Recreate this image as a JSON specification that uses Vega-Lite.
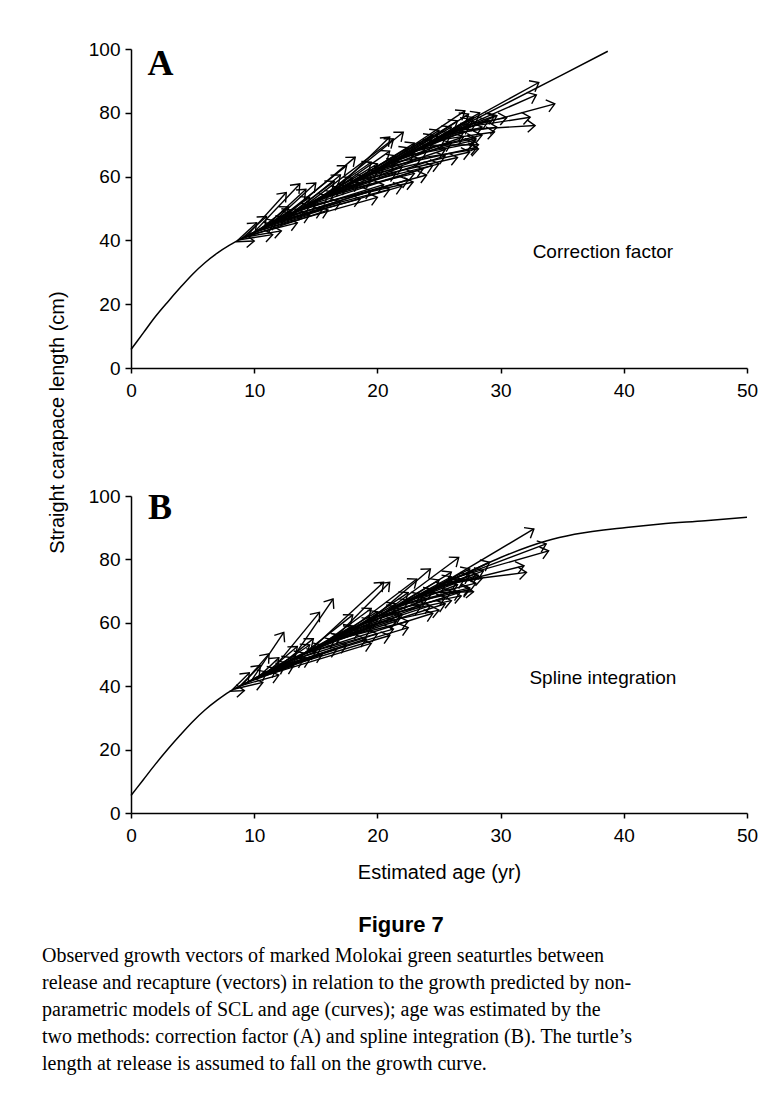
{
  "$schema": "https://vega.github.io/schema/vega-lite/v6.json",
  "description": "Observed growth vectors of marked Molokai green seaturtles against the growth curves predicted from two age-estimation methods (Figure 7).",
  "background": "white",
  "padding": {"left": 42, "top": 40, "right": 12, "bottom": 10},
  "config": {
    "view": {"stroke": null},
    "font": "Liberation Sans",
    "axis": {
      "grid": false,
      "domainColor": "black",
      "domainWidth": 1.5,
      "tickColor": "black",
      "tickWidth": 1.5,
      "labelColor": "black",
      "labelFont": "Liberation Sans",
      "labelFontSize": 19,
      "labelFlush": false,
      "titleColor": "black",
      "titleFont": "Liberation Sans",
      "titleFontSize": 20,
      "titleFontWeight": "normal"
    },
    "axisX": {"tickSize": 5, "labelPadding": 8},
    "axisY": {"tickSize": 6, "labelPadding": 5}
  },
  "title": {
    "text": [
      "Observed growth vectors of marked Molokai green seaturtles between",
      "release and recapture (vectors) in relation to the growth predicted by non-",
      "parametric models of SCL and age (curves); age was estimated by the",
      "two methods: correction factor (A) and spline integration (B). The turtle’s",
      "length at release is assumed to fall on the growth curve."
    ],
    "orient": "bottom",
    "anchor": "start",
    "offset": 10,
    "dx": -5,
    "font": "Liberation Serif",
    "fontSize": 20,
    "fontWeight": "normal",
    "lineHeight": 27,
    "color": "black"
  },
  "datasets": {
    "notesA": [
      {"age": 2.39, "scl": 95.3, "label": "A", "kind": "panel"},
      {"age": 38.3, "scl": 36.3, "label": "Correction factor", "kind": "method"}
    ],
    "notesB": [
      {"age": 2.35, "scl": 96.2, "label": "B", "kind": "panel"},
      {"age": 38.3, "scl": 42.7, "label": "Spline integration", "kind": "method"}
    ],
    "curveA": [
      {"age": 0, "scl": 5.8}, {"age": 1, "scl": 11}, {"age": 2, "scl": 16.2}, {"age": 3, "scl": 20.8},
      {"age": 4, "scl": 25.2}, {"age": 5, "scl": 29.4}, {"age": 6, "scl": 33}, {"age": 7, "scl": 36},
      {"age": 8, "scl": 38.5}, {"age": 9, "scl": 40.6}, {"age": 10, "scl": 42.6}, {"age": 12, "scl": 46.5},
      {"age": 15, "scl": 52.5}, {"age": 20, "scl": 62.3}, {"age": 25, "scl": 72.2}, {"age": 30, "scl": 82},
      {"age": 35, "scl": 91.9}, {"age": 38.7, "scl": 99.3}
    ],
    "vectorsA": [
      {"age": 8.6, "scl": 39.8, "age2": 10.2, "scl2": 45.5},
      {"age": 9.0, "scl": 40.6, "age2": 11.0, "scl2": 47.5},
      {"age": 9.4, "scl": 41.4, "age2": 12.6, "scl2": 55.0},
      {"age": 10.0, "scl": 42.6, "age2": 13.7, "scl2": 57.7},
      {"age": 10.5, "scl": 43.6, "age2": 12.8, "scl2": 50.5},
      {"age": 11.0, "scl": 44.6, "age2": 14.2, "scl2": 56.0},
      {"age": 11.5, "scl": 45.6, "age2": 15.0, "scl2": 58.0},
      {"age": 12.0, "scl": 46.5, "age2": 17.5, "scl2": 63.4},
      {"age": 12.5, "scl": 47.5, "age2": 18.2, "scl2": 66.1},
      {"age": 13.0, "scl": 48.5, "age2": 16.5, "scl2": 58.5},
      {"age": 13.5, "scl": 49.5, "age2": 17.0, "scl2": 60.5},
      {"age": 14.0, "scl": 50.5, "age2": 21.3, "scl2": 71.8},
      {"age": 15.0, "scl": 52.5, "age2": 19.5, "scl2": 64.5},
      {"age": 15.5, "scl": 53.4, "age2": 22.1, "scl2": 73.9},
      {"age": 16.0, "scl": 54.4, "age2": 21.0, "scl2": 68.0},
      {"age": 16.5, "scl": 55.4, "age2": 21.0, "scl2": 72.4},
      {"age": 17.0, "scl": 56.4, "age2": 22.5, "scl2": 69.0},
      {"age": 18.0, "scl": 58.4, "age2": 23.0, "scl2": 70.5},
      {"age": 19.0, "scl": 60.3, "age2": 24.5, "scl2": 73.0},
      {"age": 20.0, "scl": 62.3, "age2": 27.1, "scl2": 80.6},
      {"age": 21.0, "scl": 64.3, "age2": 26.5, "scl2": 77.5},
      {"age": 22.0, "scl": 66.2, "age2": 27.4, "scl2": 79.6},
      {"age": 22.5, "scl": 67.2, "age2": 29.7, "scl2": 79.1},
      {"age": 23.5, "scl": 69.2, "age2": 28.3, "scl2": 80.0},
      {"age": 24.0, "scl": 70.2, "age2": 33.1, "scl2": 89.5},
      {"age": 25.0, "scl": 72.2, "age2": 32.9, "scl2": 85.6},
      {"age": 26.0, "scl": 74.1, "age2": 29.5, "scl2": 79.0},
      {"age": 8.8, "scl": 40.2, "age2": 11.5, "scl2": 45.0},
      {"age": 9.6, "scl": 41.8, "age2": 13.0, "scl2": 48.5},
      {"age": 10.8, "scl": 44.2, "age2": 14.5, "scl2": 51.0},
      {"age": 11.8, "scl": 46.1, "age2": 16.0, "scl2": 54.0},
      {"age": 13.2, "scl": 48.9, "age2": 17.5, "scl2": 57.0},
      {"age": 14.5, "scl": 51.5, "age2": 19.0, "scl2": 60.0},
      {"age": 15.8, "scl": 54.0, "age2": 20.5, "scl2": 62.5},
      {"age": 17.2, "scl": 56.8, "age2": 21.5, "scl2": 65.0},
      {"age": 18.5, "scl": 59.3, "age2": 23.0, "scl2": 67.5},
      {"age": 19.5, "scl": 61.3, "age2": 24.0, "scl2": 70.0},
      {"age": 20.5, "scl": 63.3, "age2": 25.5, "scl2": 72.0},
      {"age": 21.5, "scl": 65.2, "age2": 26.0, "scl2": 73.5},
      {"age": 23.0, "scl": 68.2, "age2": 27.5, "scl2": 76.0},
      {"age": 24.5, "scl": 71.2, "age2": 28.0, "scl2": 77.0},
      {"age": 25.5, "scl": 73.2, "age2": 29.7, "scl2": 75.5},
      {"age": 8.5, "scl": 39.6, "age2": 10.0, "scl2": 39.8},
      {"age": 8.8, "scl": 40.2, "age2": 11.5, "scl2": 41.8},
      {"age": 9.2, "scl": 41.0, "age2": 12.2, "scl2": 43.0},
      {"age": 9.5, "scl": 41.6, "age2": 13.5, "scl2": 45.5},
      {"age": 10.0, "scl": 42.6, "age2": 14.5, "scl2": 48.0},
      {"age": 10.5, "scl": 43.6, "age2": 15.5, "scl2": 49.5},
      {"age": 11.0, "scl": 44.6, "age2": 17.0, "scl2": 52.0},
      {"age": 11.5, "scl": 45.6, "age2": 18.6, "scl2": 53.0},
      {"age": 12.0, "scl": 46.5, "age2": 19.5, "scl2": 55.5},
      {"age": 12.5, "scl": 47.5, "age2": 21.0, "scl2": 56.0},
      {"age": 13.0, "scl": 48.5, "age2": 20.5, "scl2": 57.5},
      {"age": 14.0, "scl": 50.5, "age2": 22.9, "scl2": 58.3},
      {"age": 15.0, "scl": 52.5, "age2": 23.7, "scl2": 62.4},
      {"age": 16.0, "scl": 54.4, "age2": 23.0, "scl2": 61.0},
      {"age": 17.0, "scl": 56.4, "age2": 25.0, "scl2": 64.0},
      {"age": 18.0, "scl": 58.4, "age2": 26.5, "scl2": 66.0},
      {"age": 19.0, "scl": 60.3, "age2": 27.5, "scl2": 67.7},
      {"age": 20.0, "scl": 62.3, "age2": 28.1, "scl2": 69.2},
      {"age": 21.0, "scl": 64.3, "age2": 28.2, "scl2": 68.7},
      {"age": 22.0, "scl": 66.2, "age2": 27.8, "scl2": 70.5},
      {"age": 23.0, "scl": 68.2, "age2": 28.0, "scl2": 72.0},
      {"age": 24.5, "scl": 71.2, "age2": 29.5, "scl2": 74.0},
      {"age": 26.0, "scl": 74.1, "age2": 34.4, "scl2": 82.8},
      {"age": 26.5, "scl": 75.1, "age2": 32.4, "scl2": 78.6},
      {"age": 26.2, "scl": 74.5, "age2": 32.8, "scl2": 76.0},
      {"age": 27.0, "scl": 76.1, "age2": 30.5, "scl2": 78.5},
      {"age": 10.0, "scl": 42.6, "age2": 20.0, "scl2": 53.5},
      {"age": 11.0, "scl": 44.6, "age2": 22.0, "scl2": 57.0},
      {"age": 13.5, "scl": 49.5, "age2": 24.0, "scl2": 60.5},
      {"age": 9.0, "scl": 40.6, "age2": 16.0, "scl2": 49.5},
      {"age": 9.2, "scl": 41.0, "age2": 11.8, "scl2": 46.0},
      {"age": 9.8, "scl": 42.2, "age2": 12.5, "scl2": 47.0},
      {"age": 10.2, "scl": 43.0, "age2": 13.0, "scl2": 49.5},
      {"age": 10.6, "scl": 43.8, "age2": 14.0, "scl2": 49.0},
      {"age": 11.2, "scl": 45.0, "age2": 15.0, "scl2": 51.5},
      {"age": 11.6, "scl": 45.8, "age2": 14.5, "scl2": 53.5},
      {"age": 12.2, "scl": 46.9, "age2": 16.5, "scl2": 55.0},
      {"age": 12.8, "scl": 48.1, "age2": 17.0, "scl2": 56.5},
      {"age": 13.4, "scl": 49.3, "age2": 18.5, "scl2": 58.0},
      {"age": 13.8, "scl": 50.1, "age2": 18.0, "scl2": 59.5},
      {"age": 14.2, "scl": 50.9, "age2": 19.5, "scl2": 59.0},
      {"age": 14.8, "scl": 52.1, "age2": 20.0, "scl2": 61.5},
      {"age": 15.2, "scl": 52.9, "age2": 21.5, "scl2": 61.0},
      {"age": 15.6, "scl": 53.7, "age2": 20.0, "scl2": 64.0},
      {"age": 16.2, "scl": 54.8, "age2": 22.0, "scl2": 63.0},
      {"age": 16.8, "scl": 56.0, "age2": 21.5, "scl2": 66.5},
      {"age": 17.5, "scl": 57.4, "age2": 23.5, "scl2": 65.5},
      {"age": 18.2, "scl": 58.8, "age2": 24.0, "scl2": 68.0},
      {"age": 18.8, "scl": 59.9, "age2": 25.5, "scl2": 68.5},
      {"age": 19.2, "scl": 60.7, "age2": 24.5, "scl2": 71.0},
      {"age": 19.8, "scl": 61.9, "age2": 26.0, "scl2": 70.5},
      {"age": 20.2, "scl": 62.7, "age2": 25.0, "scl2": 74.5},
      {"age": 20.8, "scl": 63.9, "age2": 27.0, "scl2": 72.5},
      {"age": 21.2, "scl": 64.7, "age2": 26.0, "scl2": 75.5},
      {"age": 21.8, "scl": 65.9, "age2": 28.0, "scl2": 71.5},
      {"age": 22.2, "scl": 66.7, "age2": 27.0, "scl2": 74.0},
      {"age": 22.8, "scl": 67.8, "age2": 28.5, "scl2": 73.0},
      {"age": 23.2, "scl": 68.6, "age2": 27.5, "scl2": 78.0},
      {"age": 23.8, "scl": 69.8, "age2": 28.2, "scl2": 70.0},
      {"age": 24.2, "scl": 70.6, "age2": 28.5, "scl2": 75.5},
      {"age": 24.8, "scl": 71.8, "age2": 27.8, "scl2": 78.5},
      {"age": 25.2, "scl": 72.6, "age2": 29.0, "scl2": 77.5},
      {"age": 16.0, "scl": 54.4, "age2": 25.5, "scl2": 66.5},
      {"age": 14.0, "scl": 50.5, "age2": 24.5, "scl2": 63.5},
      {"age": 12.0, "scl": 46.5, "age2": 22.5, "scl2": 59.0}
    ],
    "curveB": [
      {"age": 0, "scl": 5.5}, {"age": 1, "scl": 10.5}, {"age": 2, "scl": 15.5}, {"age": 3, "scl": 20.2},
      {"age": 4, "scl": 24.6}, {"age": 5, "scl": 28.8}, {"age": 6, "scl": 32.5}, {"age": 7, "scl": 35.6},
      {"age": 8, "scl": 38.3}, {"age": 9, "scl": 40.3}, {"age": 10, "scl": 42.3}, {"age": 12, "scl": 46.2},
      {"age": 15, "scl": 52.2}, {"age": 20, "scl": 62}, {"age": 25, "scl": 71.8}, {"age": 27.5, "scl": 76.2},
      {"age": 30, "scl": 80.6}, {"age": 33.7, "scl": 85.8}, {"age": 36, "scl": 87.9}, {"age": 40.2, "scl": 90.1},
      {"age": 43, "scl": 91.2}, {"age": 46.6, "scl": 92.2}, {"age": 50, "scl": 93.3}
    ],
    "vectorsB": [
      {"age": 8.2, "scl": 38.8, "age2": 9.6, "scl2": 44.2},
      {"age": 8.8, "scl": 39.9, "age2": 10.5, "scl2": 46.5},
      {"age": 9.0, "scl": 40.3, "age2": 11.2, "scl2": 50.2},
      {"age": 9.8, "scl": 41.9, "age2": 12.4, "scl2": 57.0},
      {"age": 10.4, "scl": 43.1, "age2": 12.0, "scl2": 49.0},
      {"age": 11.0, "scl": 44.3, "age2": 13.5, "scl2": 52.5},
      {"age": 11.5, "scl": 45.3, "age2": 15.3, "scl2": 63.3},
      {"age": 12.0, "scl": 46.2, "age2": 14.8, "scl2": 55.0},
      {"age": 13.0, "scl": 48.2, "age2": 16.4, "scl2": 67.5},
      {"age": 14.0, "scl": 50.2, "age2": 18.0, "scl2": 62.5},
      {"age": 14.5, "scl": 51.2, "age2": 20.5, "scl2": 72.8},
      {"age": 15.5, "scl": 53.1, "age2": 19.5, "scl2": 64.5},
      {"age": 16.5, "scl": 55.1, "age2": 21.0, "scl2": 72.8},
      {"age": 17.5, "scl": 57.1, "age2": 23.2, "scl2": 73.8},
      {"age": 18.5, "scl": 59.1, "age2": 22.5, "scl2": 69.5},
      {"age": 19.5, "scl": 61.0, "age2": 24.3, "scl2": 77.0},
      {"age": 20.5, "scl": 63.0, "age2": 26.6, "scl2": 80.6},
      {"age": 21.5, "scl": 65.0, "age2": 26.0, "scl2": 76.0},
      {"age": 22.5, "scl": 66.9, "age2": 29.1, "scl2": 79.1},
      {"age": 23.5, "scl": 68.9, "age2": 28.6, "scl2": 76.4},
      {"age": 25.0, "scl": 71.8, "age2": 32.7, "scl2": 89.6},
      {"age": 26.0, "scl": 73.6, "age2": 33.7, "scl2": 84.9},
      {"age": 26.5, "scl": 74.5, "age2": 33.9, "scl2": 82.7},
      {"age": 8.5, "scl": 39.3, "age2": 11.0, "scl2": 44.5},
      {"age": 9.5, "scl": 41.3, "age2": 12.5, "scl2": 47.5},
      {"age": 10.5, "scl": 43.3, "age2": 14.0, "scl2": 50.5},
      {"age": 11.5, "scl": 45.3, "age2": 15.5, "scl2": 53.0},
      {"age": 12.5, "scl": 47.2, "age2": 17.0, "scl2": 56.0},
      {"age": 13.5, "scl": 49.2, "age2": 18.0, "scl2": 58.5},
      {"age": 15.0, "scl": 52.2, "age2": 19.5, "scl2": 61.0},
      {"age": 16.0, "scl": 54.1, "age2": 20.5, "scl2": 63.0},
      {"age": 17.0, "scl": 56.1, "age2": 21.5, "scl2": 65.0},
      {"age": 18.0, "scl": 58.1, "age2": 22.5, "scl2": 67.0},
      {"age": 19.0, "scl": 60.0, "age2": 23.5, "scl2": 69.0},
      {"age": 20.0, "scl": 62.0, "age2": 24.5, "scl2": 70.5},
      {"age": 21.0, "scl": 64.0, "age2": 25.5, "scl2": 72.0},
      {"age": 22.0, "scl": 65.9, "age2": 26.5, "scl2": 73.5},
      {"age": 23.0, "scl": 67.9, "age2": 27.5, "scl2": 75.0},
      {"age": 24.0, "scl": 69.9, "age2": 28.0, "scl2": 75.5},
      {"age": 8.0, "scl": 38.4, "age2": 9.2, "scl2": 38.6},
      {"age": 8.4, "scl": 39.1, "age2": 10.7, "scl2": 41.2},
      {"age": 9.0, "scl": 40.3, "age2": 12.0, "scl2": 43.5},
      {"age": 9.5, "scl": 41.3, "age2": 13.2, "scl2": 46.5},
      {"age": 10.0, "scl": 42.3, "age2": 14.5, "scl2": 48.5},
      {"age": 10.5, "scl": 43.3, "age2": 15.5, "scl2": 50.0},
      {"age": 11.0, "scl": 44.3, "age2": 16.7, "scl2": 51.7},
      {"age": 11.5, "scl": 45.3, "age2": 17.5, "scl2": 53.0},
      {"age": 12.0, "scl": 46.2, "age2": 19.1, "scl2": 54.9},
      {"age": 13.0, "scl": 48.2, "age2": 20.0, "scl2": 56.5},
      {"age": 14.0, "scl": 50.2, "age2": 21.3, "scl2": 58.0},
      {"age": 15.0, "scl": 52.2, "age2": 21.8, "scl2": 62.2},
      {"age": 16.0, "scl": 54.1, "age2": 22.5, "scl2": 60.5},
      {"age": 17.0, "scl": 56.1, "age2": 24.3, "scl2": 65.4},
      {"age": 18.0, "scl": 58.1, "age2": 25.0, "scl2": 64.0},
      {"age": 19.0, "scl": 60.0, "age2": 26.7, "scl2": 69.6},
      {"age": 20.0, "scl": 62.0, "age2": 26.0, "scl2": 67.0},
      {"age": 21.0, "scl": 64.0, "age2": 26.8, "scl2": 68.5},
      {"age": 22.0, "scl": 65.9, "age2": 27.5, "scl2": 71.0},
      {"age": 24.5, "scl": 70.9, "age2": 31.9, "scl2": 78.0},
      {"age": 25.5, "scl": 72.7, "age2": 32.1, "scl2": 75.9},
      {"age": 25.0, "scl": 71.8, "age2": 28.5, "scl2": 74.0},
      {"age": 10.0, "scl": 42.3, "age2": 19.5, "scl2": 53.5},
      {"age": 11.0, "scl": 44.3, "age2": 21.0, "scl2": 56.0},
      {"age": 9.2, "scl": 40.7, "age2": 11.8, "scl2": 45.5},
      {"age": 9.8, "scl": 41.9, "age2": 12.5, "scl2": 46.5},
      {"age": 10.2, "scl": 42.7, "age2": 13.0, "scl2": 49.0},
      {"age": 10.6, "scl": 43.5, "age2": 14.0, "scl2": 48.5},
      {"age": 11.2, "scl": 44.7, "age2": 15.0, "scl2": 51.0},
      {"age": 11.6, "scl": 45.5, "age2": 14.5, "scl2": 53.0},
      {"age": 12.2, "scl": 46.6, "age2": 16.5, "scl2": 54.5},
      {"age": 12.8, "scl": 47.8, "age2": 17.0, "scl2": 56.0},
      {"age": 13.4, "scl": 49.0, "age2": 18.5, "scl2": 57.5},
      {"age": 13.8, "scl": 49.8, "age2": 18.0, "scl2": 59.0},
      {"age": 14.2, "scl": 50.6, "age2": 19.5, "scl2": 58.5},
      {"age": 14.8, "scl": 51.8, "age2": 20.0, "scl2": 61.0},
      {"age": 15.2, "scl": 52.6, "age2": 21.5, "scl2": 60.5},
      {"age": 15.6, "scl": 53.3, "age2": 20.0, "scl2": 63.5},
      {"age": 16.2, "scl": 54.5, "age2": 22.0, "scl2": 62.5},
      {"age": 16.8, "scl": 55.7, "age2": 21.5, "scl2": 66.0},
      {"age": 17.5, "scl": 57.1, "age2": 23.5, "scl2": 65.0},
      {"age": 18.2, "scl": 58.5, "age2": 24.0, "scl2": 67.5},
      {"age": 18.8, "scl": 59.6, "age2": 25.5, "scl2": 68.0},
      {"age": 19.2, "scl": 60.4, "age2": 24.5, "scl2": 70.5},
      {"age": 19.8, "scl": 61.6, "age2": 26.0, "scl2": 70.0},
      {"age": 20.2, "scl": 62.4, "age2": 25.0, "scl2": 73.5},
      {"age": 20.8, "scl": 63.6, "age2": 26.5, "scl2": 72.0},
      {"age": 21.2, "scl": 64.4, "age2": 26.0, "scl2": 74.5},
      {"age": 21.8, "scl": 65.5, "age2": 27.5, "scl2": 70.5},
      {"age": 22.2, "scl": 66.3, "age2": 27.0, "scl2": 73.5},
      {"age": 22.8, "scl": 67.5, "age2": 28.0, "scl2": 72.5},
      {"age": 23.2, "scl": 68.3, "age2": 27.5, "scl2": 77.0},
      {"age": 23.8, "scl": 69.5, "age2": 27.8, "scl2": 69.8},
      {"age": 24.2, "scl": 70.3, "age2": 28.2, "scl2": 75.0},
      {"age": 16.0, "scl": 54.1, "age2": 25.5, "scl2": 66.0},
      {"age": 14.0, "scl": 50.2, "age2": 24.5, "scl2": 63.0},
      {"age": 12.0, "scl": 46.2, "age2": 22.5, "scl2": 58.5}
    ]
  },
  "spacing": 128,
  "bounds": "flush",
  "vconcat": [
    {
      "width": 616,
      "height": 319,
      "encoding": {
        "x": {
          "field": "age",
          "type": "quantitative",
          "scale": {"domain": [0, 50], "nice": false},
          "axis": {"values": [0, 10, 20, 30, 40, 50], "title": null}
        },
        "y": {
          "field": "scl",
          "type": "quantitative",
          "scale": {"domain": [0, 100], "nice": false},
          "axis": {
            "values": [0, 20, 40, 60, 80, 100],
            "title": "Straight carapace length (cm)",
            "titleX": -74,
            "titleY": 373,
            "titleBaseline": "middle"
          }
        }
      },
      "layer": [
        {
          "data": {"name": "curveA"},
          "mark": {"type": "line", "color": "black", "strokeWidth": 1.5, "interpolate": "monotone"}
        },
        {
          "data": {"name": "vectorsA"},
          "mark": {"type": "rule", "color": "black", "strokeWidth": 1.4},
          "encoding": {"x2": {"field": "age2"}, "y2": {"field": "scl2"}}
        },
        {
          "data": {"name": "vectorsA"},
          "transform": [
            {"calculate": "atan2(-(datum.scl2 - datum.scl) * 0.2589, datum.age2 - datum.age) * 180 / PI", "as": "heading"}
          ],
          "mark": {"type": "point", "shape": "M-1,-0.8L0,0L-1,0.8", "filled": false, "size": 240, "color": "black", "strokeWidth": 1.4, "opacity": 1},
          "encoding": {
            "x": {"field": "age2", "type": "quantitative", "scale": {"domain": [0, 50], "nice": false}},
            "y": {"field": "scl2", "type": "quantitative", "scale": {"domain": [0, 100], "nice": false}},
            "angle": {"field": "heading", "type": "quantitative", "scale": null}
          }
        },
        {
          "data": {"name": "notesA"},
          "transform": [{"filter": "datum.kind === 'panel'"}],
          "mark": {"type": "text", "font": "Liberation Serif", "fontSize": 36, "fontWeight": "bold", "color": "black"},
          "encoding": {"text": {"field": "label"}}
        },
        {
          "data": {"name": "notesA"},
          "transform": [{"filter": "datum.kind === 'method'"}],
          "mark": {"type": "text", "fontSize": 19, "color": "black"},
          "encoding": {"text": {"field": "label"}}
        }
      ]
    },
    {
      "width": 616,
      "height": 317,
      "title": {
        "text": "Figure 7",
        "orient": "bottom",
        "anchor": "middle",
        "frame": "group",
        "offset": 33,
        "dx": -38,
        "font": "Liberation Sans",
        "fontSize": 22,
        "fontWeight": "bold",
        "color": "black"
      },
      "encoding": {
        "x": {
          "field": "age",
          "type": "quantitative",
          "scale": {"domain": [0, 50], "nice": false},
          "axis": {"values": [0, 10, 20, 30, 40, 50], "title": "Estimated age (yr)", "titleY": 59, "titleBaseline": "middle"}
        },
        "y": {
          "field": "scl",
          "type": "quantitative",
          "scale": {"domain": [0, 100], "nice": false},
          "axis": {"values": [0, 20, 40, 60, 80, 100], "title": null}
        }
      },
      "layer": [
        {
          "data": {"name": "curveB"},
          "mark": {"type": "line", "color": "black", "strokeWidth": 1.5, "interpolate": "monotone"}
        },
        {
          "data": {"name": "vectorsB"},
          "mark": {"type": "rule", "color": "black", "strokeWidth": 1.4},
          "encoding": {"x2": {"field": "age2"}, "y2": {"field": "scl2"}}
        },
        {
          "data": {"name": "vectorsB"},
          "transform": [
            {"calculate": "atan2(-(datum.scl2 - datum.scl) * 0.2573, datum.age2 - datum.age) * 180 / PI", "as": "heading"}
          ],
          "mark": {"type": "point", "shape": "M-1,-0.8L0,0L-1,0.8", "filled": false, "size": 240, "color": "black", "strokeWidth": 1.4, "opacity": 1},
          "encoding": {
            "x": {"field": "age2", "type": "quantitative", "scale": {"domain": [0, 50], "nice": false}},
            "y": {"field": "scl2", "type": "quantitative", "scale": {"domain": [0, 100], "nice": false}},
            "angle": {"field": "heading", "type": "quantitative", "scale": null}
          }
        },
        {
          "data": {"name": "notesB"},
          "transform": [{"filter": "datum.kind === 'panel'"}],
          "mark": {"type": "text", "font": "Liberation Serif", "fontSize": 36, "fontWeight": "bold", "color": "black"},
          "encoding": {"text": {"field": "label"}}
        },
        {
          "data": {"name": "notesB"},
          "transform": [{"filter": "datum.kind === 'method'"}],
          "mark": {"type": "text", "fontSize": 19, "color": "black"},
          "encoding": {"text": {"field": "label"}}
        }
      ]
    }
  ]
}
